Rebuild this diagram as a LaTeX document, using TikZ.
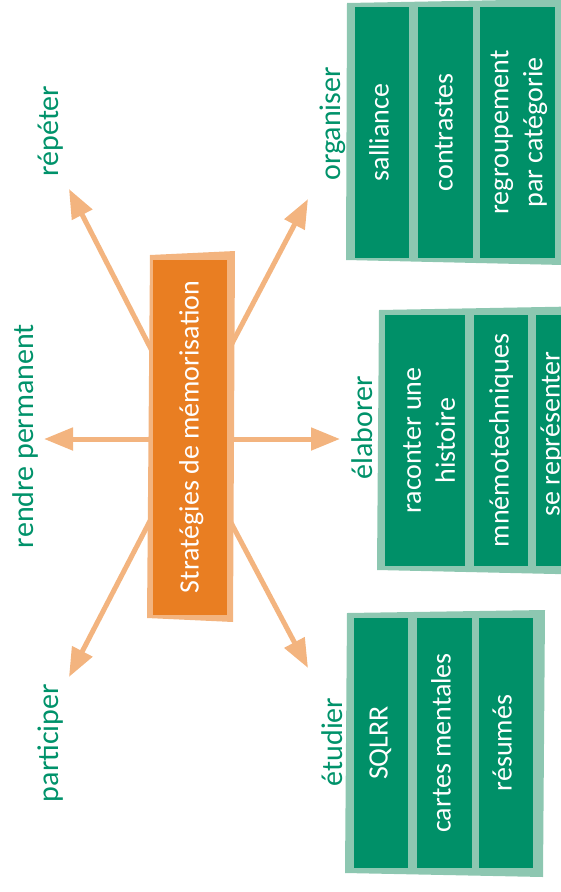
\documentclass[tikz,border=0pt]{standalone}
\usepackage{fontspec}
\setmainfont{Carlito}
\usetikzlibrary{arrows.meta}
\definecolor{dgreen}{HTML}{009068}
\definecolor{lgreen}{HTML}{8DC7B1}
\definecolor{tgreen}{HTML}{00926A}
\definecolor{dorange}{HTML}{E97E22}
\definecolor{lorange}{HTML}{F3B47F}
\begin{document}
\begin{tikzpicture}[x=1pt,y=-1pt,
  lbl/.style={rotate=90,anchor=base,text=tgreen,font=\fontsize{30}{36}\selectfont,inner sep=0pt},
  itemtwo/.style={rotate=90,text=white,font=\fontsize{28}{34}\selectfont,align=center,inner sep=0pt},
  item/.style={itemtwo,text height=0.7em,text depth=0.2em},
  itembox/.style={fill=dgreen},
  grp/.style={fill=lgreen},
  arr/.style={draw=lorange,line width=5pt,-{Triangle[length=29pt,width=22pt]}}]
\useasboundingbox (0,0) rectangle (561,892);
\clip (0,0) rectangle (561,892);

% groups
\fill[grp] (347,3) -- (563,-1) -- (563,265) -- (346,260) -- cycle;
\fill[itembox] (355,7) rectangle (409,258);
\fill[itembox] (418,7) rectangle (473,258);
\fill[itembox] (480,7) rectangle (555,258);
\node[item] (g1a) at (386,132.5) {salliance};
\node[item] (g1b) at (450,132.5) {contrastes};
\node[itemtwo] (g1c) at (519,132.5) {regroupement\\par catégorie};

\fill[grp] (379,310) -- (600,306) -- (600,575) -- (377,570) -- cycle;
\fill[itembox] (385,315) rectangle (465,566);
\fill[itembox] (474,315) rectangle (528,566);
\fill[itembox] (536,315) rectangle (600,566);
\node[itemtwo] (g2a) at (429,440.5) {raconter une\\histoire};
\node[item] (g2b) at (506,440.5) {mnémotechniques};
\node[item] (g2c) at (557,434) {se représenter};

\fill[grp] (347,613) -- (545,610) -- (543,877) -- (345,873) -- cycle;
\fill[itembox] (354,618) rectangle (408,868);
\fill[itembox] (417,618) rectangle (472,868);
\fill[itembox] (479,618) rectangle (533,868);
\node[item] (g3a) at (385,743) {SQLRR};
\node[item] (g3b) at (448,743) {cartes mentales};
\node[item] (g3c) at (509,743) {résumés};

% labels
\node[lbl] (repeter) at (58,131) {répéter};
\node[lbl] (rendre) at (33,436) {rendre permanent};
\node[lbl] (participer) at (58,743) {participer};
\node[lbl] (organiser) at (340,124) {organiser};
\node[lbl] (elaborer) at (372,428) {élaborer};
\node[lbl] (etudier) at (342,742) {étudier};

% arrow ends
\coordinate (sUL) at (152,351);
\coordinate (tUL) at (69,189);
\coordinate (sUR) at (228,351);
\coordinate (tUR) at (308,199);
\coordinate (sL) at (155,439);
\coordinate (tL) at (44,439);
\coordinate (sR) at (225,439);
\coordinate (tR) at (340,439);
\coordinate (sDL) at (152,517);
\coordinate (tDL) at (69,677);
\coordinate (sDR) at (228,517);
\coordinate (tDR) at (308,668);
\draw[arr] (sUL) -- (tUL);
\draw[arr] (sUR) -- (tUR);
\draw[arr] (sL) -- (tL);
\draw[arr] (sR) -- (tR);
\draw[arr] (sDL) -- (tDL);
\draw[arr] (sDR) -- (tDR);

% centre
\fill[lorange] (150,255) -- (235,251) -- (233,622) -- (147,618) -- cycle;
\fill[dorange] (153,260) rectangle (227,615);
\node[rotate=90,text=white,font=\fontsize{28}{34}\selectfont,inner sep=0pt,text height=0.7em,text depth=0.2em] (centre) at (196,437) {Stratégies de mémorisation};
\end{tikzpicture}
\end{document}
